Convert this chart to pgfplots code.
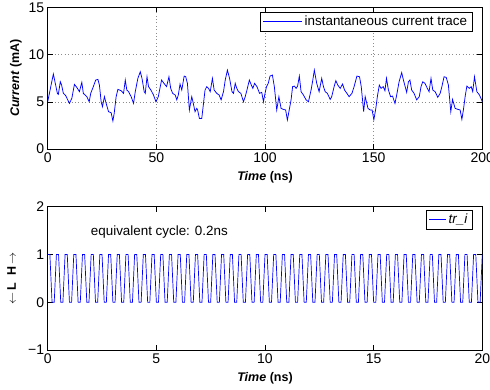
\documentclass[border=0pt]{standalone}
\usepackage{fontspec}
\setmainfont{Liberation Sans}
\usepackage{pgfplots}
\pgfplotsset{compat=1.18}
\definecolor{mblue}{rgb}{0,0,1}
\pgfplotsset{
  mystyle/.style={
    width=434.6pt, scale only axis,
    tick align=inside, major tick length=5pt,
    axis line style={line width=0.6pt},
    tick style={line width=0.5pt, black},
    tick label style={font=\fontsize{14}{14}\selectfont},
    /pgf/number format/assume math mode=true,
    label style={font=\fontsize{12.5}{14}\selectfont\bfseries},
    legend style={font=\fontsize{13.4}{15}\selectfont},
    legend cell align=left,
  }
}
\begin{document}
\begin{tikzpicture}
\useasboundingbox (-47.7pt,7.3pt) rectangle (442.3pt,-382.7pt);
\begin{axis}[mystyle,
  at={(0,0)}, anchor=north west, height=141.7pt,
  xmin=0, xmax=200, ymin=0, ymax=15,
  xtick={0,50,100,150,200}, ytick={0,5,10,15},
  grid=major, major grid style={black!45, dash pattern=on 0.8pt off 2.6pt, line width=0.5pt},
  xlabel={\textit{Time} (ns)}, ylabel={\textit{Current} (mA)},
  xlabel style={at={(axis description cs:0.5,-0.198)}, anchor=center},
  ylabel style={at={(axis description cs:-0.073,0.5)}, anchor=center},
  legend style={at={(0.977,0.969)}, anchor=north east},
  legend image post style={xscale=2.3},
]
\addplot[color=mblue, line width=0.75pt] coordinates {
(0,5.0) (2.6,7.94) (4.45,5.89) (4.9,5.78) (5.8,7.12) (6.4,6.77) (7.2,5.9) (8.3,5.64)
(10.0,4.83) (11.1,5.36) (12.3,6.84) (13.4,6.52) (14.6,6.07) (15.7,7.06) (16.4,5.89)
(18.0,5.54) (19.1,5.0) (19.8,5.9) (20.7,6.42) (22.1,7.3) (23.1,7.37) (23.8,6.77)
(24.6,5.0) (25.2,4.48) (26.1,5.54) (26.9,4.83) (28.0,3.95) (29.2,3.84) (30.0,2.96)
(30.6,3.77) (31.5,5.54) (32.3,6.31) (33.8,6.17) (34.9,5.89) (35.7,7.3) (36.4,6.24)
(37.2,6.07) (38.4,5.54) (39.5,4.83) (40.3,6.07) (41.5,7.48) (42.6,8.18) (43.4,7.48)
(44.4,6.07) (44.9,5.89) (45.7,7.65) (46.4,6.6) (47.5,6.24) (48.7,5.71) (49.8,5.0)
(50.9,5.54) (52.4,7.3) (53.5,6.95) (54.7,6.6) (55.8,7.65) (56.6,6.42) (57.5,5.89)
(58.7,5.71) (59.4,5.2) (60.1,5.71) (60.9,6.88) (61.7,6.24) (62.8,7.72) (63.5,7.65)
(64.3,6.95) (65.2,4.13) (66.3,5.54) (67.0,4.83) (67.8,3.95) (68.6,4.3) (69.0,4.13)
(69.8,3.24) (70.9,3.24) (71.7,4.83) (72.4,6.24) (73.2,6.6) (74.0,6.42) (74.8,6.07)
(75.8,7.48) (76.6,6.24) (77.8,5.89) (78.9,5.71) (79.8,5.2) (80.9,6.07) (81.7,7.3)
(82.7,8.35) (83.7,7.48) (84.8,6.07) (85.5,5.89) (86.3,6.95) (87.0,6.42) (87.8,6.07)
(88.9,5.89) (90.1,5.0) (90.9,5.54) (91.7,6.24) (92.8,7.3) (93.7,6.77) (94.4,6.42)
(95.2,6.95) (96.3,6.6) (97.5,5.89) (98.5,6.0) (99.3,5.0) (100.0,5.89) (100.7,6.6)
(101.5,6.95) (102.3,7.72) (103.4,7.83) (104.3,6.6) (105.4,4.13) (106.4,5.54)
(107.4,4.3) (108.4,4.2) (109.5,4.13) (110.3,3.07) (111.0,3.95) (112.0,5.2)
(112.7,6.6) (113.5,6.66) (114.3,6.42) (115.0,6.66) (115.8,7.72) (116.6,6.07)
(117.7,5.71) (118.9,5.2) (120.0,5.0) (121.2,6.24) (122.0,7.3) (122.7,8.35)
(123.8,6.95) (124.9,6.07) (126.1,7.48) (126.9,6.6) (127.7,6.07) (128.7,5.89)
(130.0,5.25) (130.7,5.54) (131.8,6.6) (132.6,7.23) (133.5,6.77) (134.6,6.42)
(135.7,6.88) (136.6,6.24) (137.7,5.89) (138.7,5.54) (140.0,5.89) (141.0,6.6)
(142.3,7.72) (143.5,7.65) (144.3,6.6) (145.4,3.95) (146.1,5.54) (147.4,4.3)
(148.4,4.13) (149.3,4.13) (150.1,3.1) (151.0,4.3) (151.7,5.54) (152.6,6.77)
(153.4,6.42) (154.4,6.6) (155.2,6.17) (155.9,7.48) (156.8,6.24) (157.8,5.54)
(158.7,5.6) (159.8,4.83) (160.6,5.71) (161.7,7.12) (162.9,8.08) (163.7,7.3)
(164.5,6.6) (165.2,6.0) (166.0,7.12) (166.7,7.3) (167.5,6.24) (168.6,5.89)
(169.8,5.2) (171.0,5.54) (171.8,6.6) (172.6,7.12) (173.6,6.95) (174.7,6.42)
(175.5,6.07) (176.4,7.48) (177.2,6.24) (178.3,6.07) (179.5,5.47) (180.6,5.89)
(181.4,6.6) (182.4,7.65) (183.4,7.58) (184.4,6.77) (185.5,3.95) (186.3,5.25)
(187.5,4.3) (188.7,4.2) (189.8,4.13) (190.6,3.14) (191.3,4.13) (192.1,5.54)
(192.9,6.66) (194.0,6.42) (194.9,6.6) (195.6,6.07) (196.4,7.65) (197.5,6.07)
(198.7,5.71) (199.4,5.36) (200.0,5.0)
};
\addlegendentry{instantaneous current trace}
\end{axis}

\begin{axis}[mystyle,
  at={(0,-199.4pt)}, anchor=north west, height=143.3pt,
  xmin=0, xmax=20, ymin=-1, ymax=2,
  xtick={0,5,10,15,20}, ytick={-1,0,1,2}, yticklabels={−1,0,1,2},
  xlabel={\textit{Time} (ns)}, ylabel={$\leftarrow$\,L\ \ H\,$\rightarrow$},
  xlabel style={at={(axis description cs:0.5,-0.195)}, anchor=center},
  ylabel style={at={(axis description cs:-0.083,0.5)}, anchor=center},
  legend style={at={(0.978,0.977)}, anchor=north east},
]
\addplot[color=mblue, line width=0.7pt] coordinates {
(0.0,1) (0.1,1) (0.2,0) (0.3,0) (0.4,1) (0.5,1) (0.6,0) (0.7,0) (0.8,1) (0.9,1)
(1.0,0) (1.1,0) (1.2,1) (1.3,1) (1.4,0) (1.5,0) (1.6,1) (1.7,1) (1.8,0) (1.9,0)
(2.0,1) (2.1,1) (2.2,0) (2.3,0) (2.4,1) (2.5,1) (2.6,0) (2.7,0) (2.8,1) (2.9,1)
(3.0,0) (3.1,0) (3.2,1) (3.3,1) (3.4,0) (3.5,0) (3.6,1) (3.7,1) (3.8,0) (3.9,0)
(4.0,1) (4.1,1) (4.2,0) (4.3,0) (4.4,1) (4.5,1) (4.6,0) (4.7,0) (4.8,1) (4.9,1)
(5.0,0) (5.1,0) (5.2,1) (5.3,1) (5.4,0) (5.5,0) (5.6,1) (5.7,1) (5.8,0) (5.9,0)
(6.0,1) (6.1,1) (6.2,0) (6.3,0) (6.4,1) (6.5,1) (6.6,0) (6.7,0) (6.8,1) (6.9,1)
(7.0,0) (7.1,0) (7.2,1) (7.3,1) (7.4,0) (7.5,0) (7.6,1) (7.7,1) (7.8,0) (7.9,0)
(8.0,1) (8.1,1) (8.2,0) (8.3,0) (8.4,1) (8.5,1) (8.6,0) (8.7,0) (8.8,1) (8.9,1)
(9.0,0) (9.1,0) (9.2,1) (9.3,1) (9.4,0) (9.5,0) (9.6,1) (9.7,1) (9.8,0) (9.9,0)
(10.0,1) (10.1,1) (10.2,0) (10.3,0) (10.4,1) (10.5,1) (10.6,0) (10.7,0) (10.8,1) (10.9,1)
(11.0,0) (11.1,0) (11.2,1) (11.3,1) (11.4,0) (11.5,0) (11.6,1) (11.7,1) (11.8,0) (11.9,0)
(12.0,1) (12.1,1) (12.2,0) (12.3,0) (12.4,1) (12.5,1) (12.6,0) (12.7,0) (12.8,1) (12.9,1)
(13.0,0) (13.1,0) (13.2,1) (13.3,1) (13.4,0) (13.5,0) (13.6,1) (13.7,1) (13.8,0) (13.9,0)
(14.0,1) (14.1,1) (14.2,0) (14.3,0) (14.4,1) (14.5,1) (14.6,0) (14.7,0) (14.8,1) (14.9,1)
(15.0,0) (15.1,0) (15.2,1) (15.3,1) (15.4,0) (15.5,0) (15.6,1) (15.7,1) (15.8,0) (15.9,0)
(16.0,1) (16.1,1) (16.2,0) (16.3,0) (16.4,1) (16.5,1) (16.6,0) (16.7,0) (16.8,1) (16.9,1)
(17.0,0) (17.1,0) (17.2,1) (17.3,1) (17.4,0) (17.5,0) (17.6,1) (17.7,1) (17.8,0) (17.9,0)
(18.0,1) (18.1,1) (18.2,0) (18.3,0) (18.4,1) (18.5,1) (18.6,0) (18.7,0) (18.8,1) (18.9,1)
(19.0,0) (19.1,0) (19.2,1) (19.3,1) (19.4,0) (19.5,0) (19.6,1) (19.7,1) (19.8,0) (19.9,0)
(20.0,1)
};
\addlegendentry{\textit{tr\_i}}
\node[anchor=west, inner sep=0pt, font=\fontsize{13.4}{15}\selectfont] at (axis cs:1.98,1.47) {equivalent cycle: 0.2ns};
\end{axis}
\end{tikzpicture}
\end{document}
